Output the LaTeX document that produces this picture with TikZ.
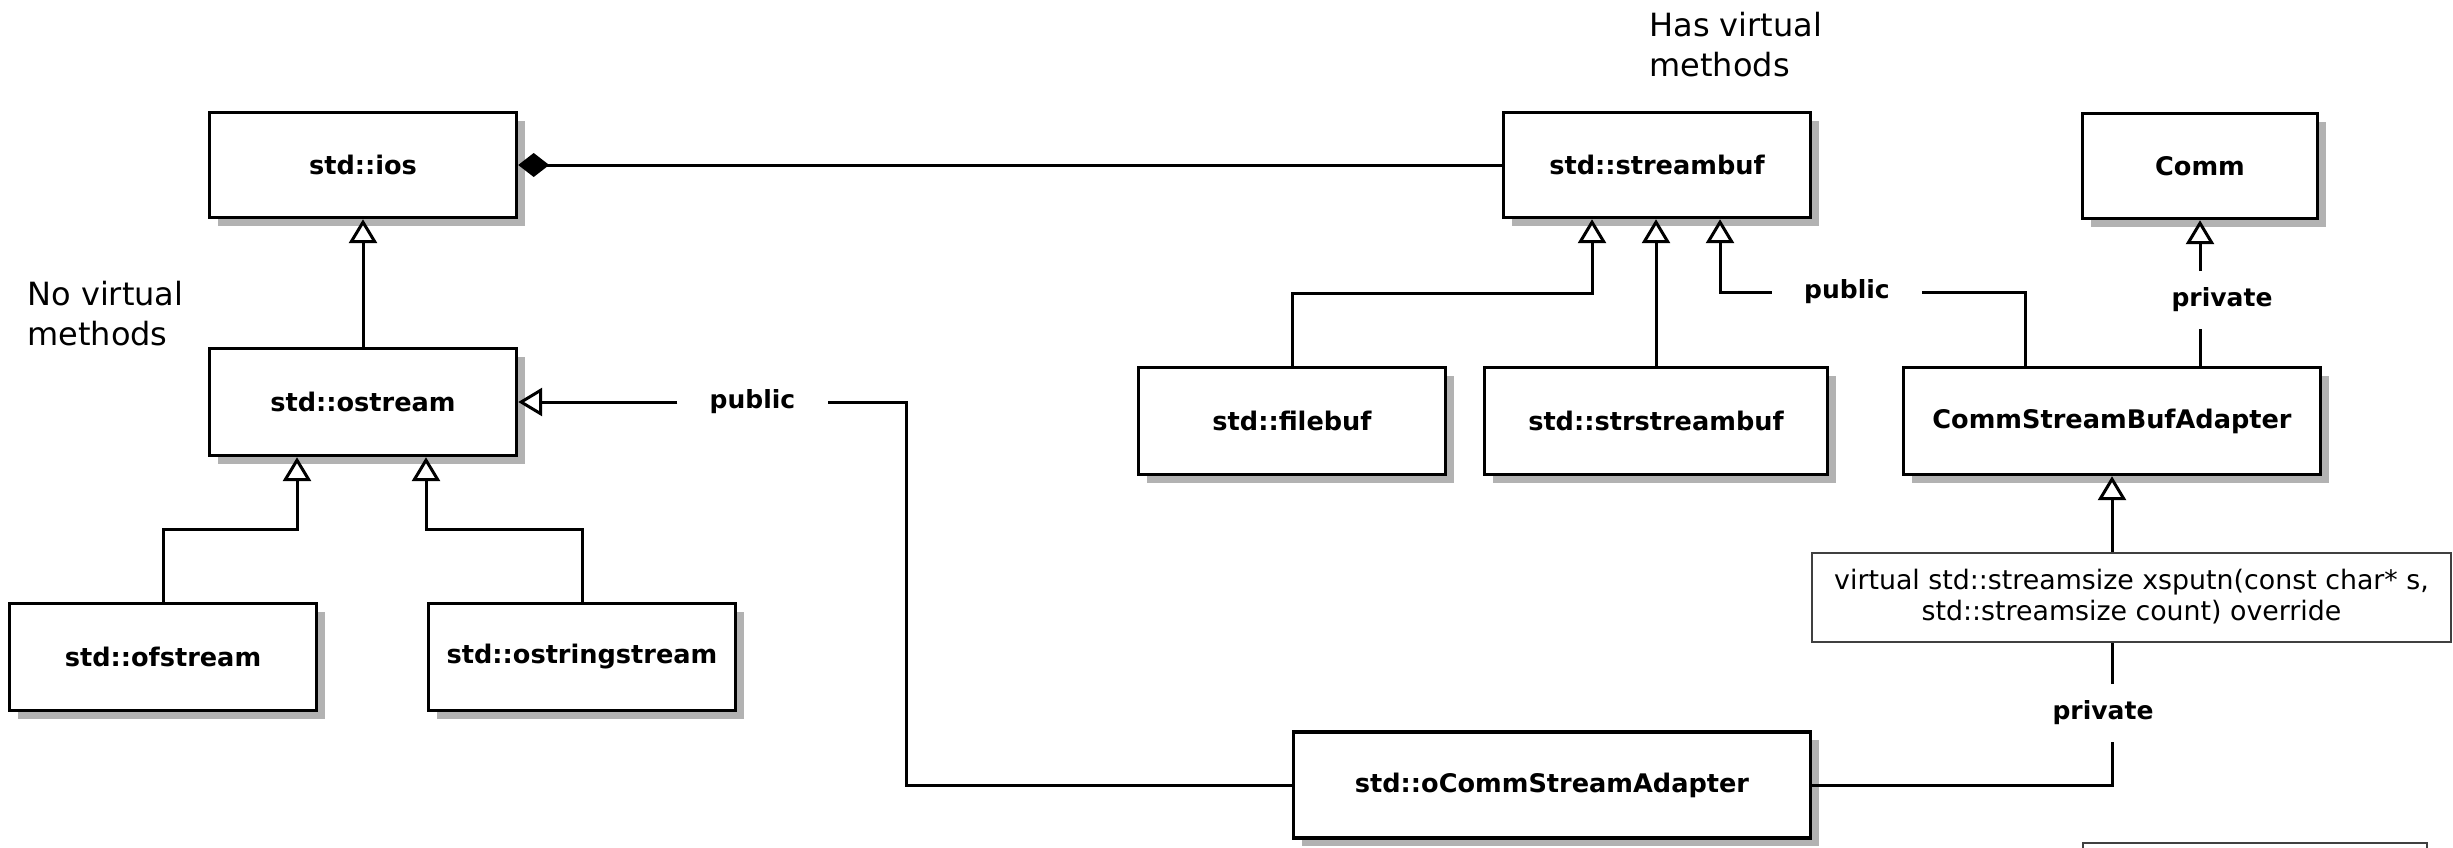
\documentclass[tikz,border=0pt]{standalone}
\usepackage{fontspec}
\setmainfont{DejaVu Sans}
\usetikzlibrary{arrows.meta,shadows}

\begin{document}
\begin{tikzpicture}[x=0.5pt,y=-0.5pt,
  cls/.style={draw, line width=1.7pt, fill=white, inner sep=0pt,
    font=\fontsize{12.8}{14}\selectfont\bfseries,
    drop shadow={shadow xshift=4pt, shadow yshift=-4pt, fill=black!30, opacity=1}},
  notebox/.style={draw=black!75, line width=1pt, fill=white, inner sep=0pt, align=center,
    font=\fontsize{13.4}{15.5}\selectfont},
  lbl/.style={inner xsep=16pt, inner ysep=0pt, font=\fontsize{12.5}{14}\selectfont\bfseries},
  plbl/.style={inner xsep=0pt, inner ysep=0pt, minimum height=28.5pt, font=\fontsize{12.5}{14}\selectfont\bfseries},
  remark/.style={inner sep=0pt, align=left, font=\fontsize{16}{19.75}\selectfont},
  conn/.style={line width=1.5pt},
  inh/.style={conn, -{Triangle[length=12pt, width=14pt, fill=white]}},
  compose/.style={conn, {Diamond[length=15.5pt, width=12pt]}-}
]
\path[fill=white] (0,0) rectangle (2453,847);
\useasboundingbox (0,0) rectangle (2453,847);

% stream classes
\node[cls, minimum width=153.5pt, minimum height=52.5pt] (ios) at (363,165) {std::ios};
\node[cls, minimum width=153.5pt, minimum height=53.5pt] (ostream) at (363,402) {std::ostream};
\node[cls, minimum width=153.5pt, minimum height=53.5pt] (ofstream) at (163,657) {std::ofstream};
\node[cls, minimum width=153.5pt, minimum height=53.5pt] (ostringstream) at (582,657) {std::ostringstream};

% buffer classes
\node[cls, minimum width=153.5pt, minimum height=52.5pt] (streambuf) at (1657,165) {std::streambuf};
\node[cls, minimum width=153.5pt, minimum height=53.5pt] (filebuf) at (1292,421) {std::filebuf};
\node[cls, minimum width=171.5pt, minimum height=53.5pt] (strstreambuf) at (1656,421) {std::strstreambuf};

% adapter classes
\node[cls, minimum width=117.5pt, minimum height=52.5pt] (comm) at (2200,166) {Comm};
\node[cls, minimum width=208.5pt, minimum height=53.5pt] (csba) at (2112,421) {CommStreamBufAdapter};
\node[cls, minimum width=258.5pt, minimum height=53pt] (ocsa) at (1552,785) {std::oCommStreamAdapter};

% remarks
\node[remark, anchor=north west] (novirt) at (27,281) {No virtual\\methods};
\node[remark, anchor=north west] (hasvirt) at (1649,12) {Has virtual\\methods};

% inheritance labels
\node[lbl] (pub1) at (752.5,402) {public};
\node[lbl] (pub2) at (1847,292) {public};
\node[plbl] (priv1) at (2222,300) {private};
\node[plbl] (priv2) at (2103,713) {private};

% bend points
\coordinate (k1) at (297,529);
\coordinate (k2) at (426,529);
\coordinate (k3) at (906,402);
\coordinate (k4) at (1592,293);
\coordinate (k5) at (2025,292);
\coordinate (k6) at (1720,292);

% composition
\draw[compose] (ios.east) -- (streambuf.west);

% inheritance
\draw[inh] (ostream.north) -- (ios.south);
\draw[inh] (ofstream.north) |- (k1) -- (k1 |- ostream.south);
\draw[inh] (ostringstream.north) |- (k2) -- (k2 |- ostream.south);
\draw[conn] (ocsa.west) -| (k3) -- (pub1.east);
\draw[inh] (pub1.west) -- (ostream.east);

\draw[inh] (filebuf.north) |- (k4) -- (k4 |- streambuf.south);
\draw[inh] (strstreambuf.north) -- (strstreambuf.north |- streambuf.south);
\draw[conn] (k5 |- csba.north) -- (k5) -- (pub2.east);
\draw[inh] (pub2.west) -- (k6) -- (k6 |- streambuf.south);

\draw[conn] (csba.north -| comm.south) -- (comm.south |- priv1.south);
\draw[inh] (comm.south |- priv1.north) -- (comm.south);

\draw[conn] (ocsa.east) -| (csba.south |- priv2.south);
\draw[inh] (csba.south |- priv2.north) -- (csba.south);

% notes
\node[notebox, minimum width=319.5pt, minimum height=44.5pt] (xsputn) at (2131.5,597)
  {virtual std::streamsize xsputn(const char* s,\\std::streamsize count) override};
\node[notebox, anchor=north west, minimum width=172pt, minimum height=40pt] (more) at (2082,842) {};
\end{tikzpicture}
\end{document}
